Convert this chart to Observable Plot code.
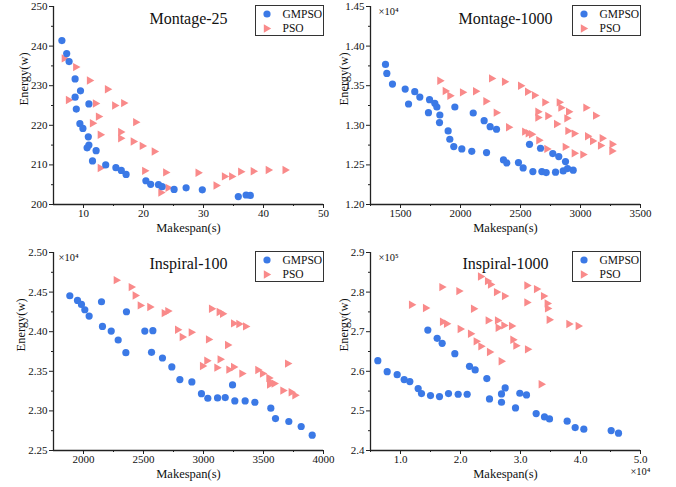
<!DOCTYPE html>
<html>
<head>
<meta charset="utf-8">
<script src="https://cdn.jsdelivr.net/npm/d3@7"></script>
<script src="https://cdn.jsdelivr.net/npm/@observablehq/plot@0.6"></script>
<style>
  html, body { margin: 0; padding: 0; background: #fff; }
  #wrap { position: relative; width: 676px; height: 487px; overflow: hidden; font-family: "Liberation Serif", serif; }
  .panel { position: absolute; }
  .panel svg, .panel svg text { font-family: "Liberation Serif", serif !important; }
  .legend { position: absolute; background: #fff; border: 1px solid #333; box-sizing: border-box; }
</style>
</head>
<body>
<div id="wrap"></div>
<script>
// ---------------- DATA ----------------
const seriesNames = ["GMPSO", "PSO"];
const panelTitles = ["Montage-25", "Montage-1000", "Inspiral-100", "Inspiral-1000"];
const xLabel = "Makespan(s)";
const yLabel = "Energy(w)";

// Montage-25  [makespan, energy]
const m25GMPSO = [[6.4,241.4],[7.2,238.1],[7.6,236.1],[8.6,231.7],[9.5,228.7],[8.6,227.1],[8.8,224.1],[10.9,225.4],
  [9.4,220.4],[9.9,219.2],[10.8,217.1],[10.9,215.0],[10.6,214.3],[12.1,213.6],[11.5,211.0],[13.7,210.0],[15.4,209.3],
  [16.3,208.6],[17.1,207.6],[20.4,206.0],[21.2,205.1],[22.5,205.0],[23.1,204.5],[25.1,203.8],[27.1,204.2],[29.8,203.7],
  [35.8,202.0],[37.1,202.4],[37.8,202.3]];
const m25PSO = [[6.9,236.9],[8.8,234.7],[7.6,226.4],[11.1,231.3],[14.1,229.1],[12.1,225.5],[15.3,225.0],[16.8,225.6],
  [12.6,222.2],[11.6,220.5],[18.8,220.8],[16.3,218.3],[16.3,216.7],[12.9,217.6],[18.4,215.9],[19.9,214.8],[21.9,213.4],
  [12.9,209.2],[20.3,208.5],[23.8,208.1],[23.0,203.0],[24.2,204.2],[29.2,208.0],[32.2,204.8],[33.6,207.1],[34.8,207.1],
  [36.3,208.3],[38.4,208.4],[40.9,208.7],[43.7,208.7]];

// Montage-1000
const m1000GMPSO = [[1375,13769],[1386,13655],[1433,13521],[1539,13458],[1567,13269],[1619,13424],[1661,13357],[1742,13324],
  [1733,13160],[1786,13277],[1803,13231],[1828,13130],[1825,13034],[1953,13231],[1897,12929],[1911,12824],[1944,12731],
  [2011,12702],[2094,12672],[2106,13155],[2197,13059],[2217,12655],[2247,12983],[2300,12950],[2358,12563],[2386,12525],
  [2483,12529],[2522,12462],[2575,12760],[2603,12416],[2667,12710],[2678,12416],[2714,12403],[2769,12643],[2819,12605],
  [2792,12408],[2875,12542],[2856,12424],[2892,12454],[2939,12433]];
const m1000PSO = [[1833,13563],[1878,13433],[1917,13374],[2022,13416],[2131,13429],[2217,13303],[2264,13592],[2303,13160],
  [2372,13550],[2406,12975],[2506,13500],[2564,13424],[2622,13378],[2540,12920],[2570,12899],[2597,12887],[2650,13172],
  [2650,13097],[2708,13290],[2733,13118],[2658,12811],[2725,12702],[2806,13017],[2828,13290],[2842,13223],[2906,13172],
  [2892,13088],[2900,12929],[2878,12727],[2953,12895],[2953,12647],[3025,12630],[3050,13223],[3064,12861],[3131,13122],
  [3106,12802],[3186,12836],[3172,12744],[3269,12760],[3267,12676]];

// Inspiral-100
const i100GMPSO = [[1886,24454],[1950,24395],[1983,24345],[2011,24277],[2047,24197],[2150,24378],[2158,24067],[2231,24008],
  [2289,23895],[2353,23735],[2358,24252],[2511,24008],[2578,24013],[2567,23739],[2658,23668],[2736,23555],[2803,23395],
  [2903,23366],[2983,23218],[3036,23160],[3117,23164],[3181,23168],[3242,23328],[3261,23126],[3347,23126],[3428,23109],
  [3561,23034],[3600,22903],[3711,22866],[3814,22803],[3906,22693]];
const i100PSO = [[2278,24651],[2403,24563],[2436,24458],[2478,24332],[2558,24311],[2678,24235],[2708,24260],[2789,24025],
  [2828,23933],[2903,23992],[3072,24290],[3136,24248],[3164,24227],[3256,24105],[3300,24097],[3356,24067],[3047,23903],
  [3206,23832],[2997,23567],[3033,23634],[3117,23546],[3144,23651],[3217,23521],[3256,23555],[3325,23471],[3458,23517],
  [3497,23471],[3550,23416],[3556,23332],[3594,23345],[3667,23256],[3706,23597],[3736,23235],[3767,23197],[3558,23366]];

// Inspiral-1000
const i1000GMPSO = [[6222,262690],[7778,259917],[9444,259160],[10611,257900],[11556,257396],[12944,255631],[13500,254370],
  [15000,253866],[16500,253614],[18000,254370],[19611,254202],[21111,254202],[14556,270421],[16111,268320],[16944,267060],
  [19056,264455],[21500,261262],[22444,260336],[24389,258152],[24833,253026],[26833,254286],[26833,252185],[27444,255799],
  [29889,254455],[31000,254034],[29167,250757],[32611,249328],[34000,248488],[34833,247983],[37778,247395],[39111,245798],
  [40556,245378],[45111,245042],[46333,244370]];
const i1000PSO = [[11944,276807],[14278,275967],[17000,281261],[19833,280252],[17111,272521],[17778,272017],[20056,270672],
  [21778,269496],[22278,275799],[22722,267563],[23500,266303],[23444,283950],[24611,282773],[25111,281933],[24722,272857],
  [24944,264875],[26111,279999],[26278,272857],[26389,271008],[27333,271597],[27444,278992],[26889,262521],[28611,271429],
  [28833,267984],[29333,266471],[31167,281681],[31167,277395],[31278,265546],[32778,280756],[33944,278992],[34556,277143],
  [34611,275883],[34889,273025],[33556,256723],[38167,271933],[39722,271429]];

// Axis ticks
const m25XTicks = [10, 20, 30, 40, 50];
const m25XMinor = [15, 25, 35, 45];
const m25YTicks = [200, 210, 220, 230, 240, 250];
const m25YMinor = [205, 215, 225, 235, 245];
const m1000XTicks = [1500, 2000, 2500, 3000, 3500];
const m1000XMinor = [1250, 1750, 2250, 2750, 3250];
const m1000YTicks = [12000, 12500, 13000, 13500, 14000, 14500];
const m1000YMinor = [12250, 12750, 13250, 13750, 14250];
const i100XTicks = [2000, 2500, 3000, 3500, 4000];
const i100XMinor = [2250, 2750, 3250, 3750];
const i100YTicks = [22500, 23000, 23500, 24000, 24500, 25000];
const i100YMinor = [22750, 23250, 23750, 24250, 24750];
const i1000XTicks = [10000, 20000, 30000, 40000, 50000];
const i1000XMinor = [5000, 15000, 25000, 35000, 45000];
const i1000YTicks = [240000, 250000, 260000, 270000, 280000, 290000];
const i1000YMinor = [245000, 255000, 265000, 275000, 285000];

// ---------------- STYLE ----------------
const BLUE = "#3b79e6";
const PINK = "#f98a8a";
const FONT = "Liberation Serif";

const triRight = {
  draw(ctx, size) {
    const r = Math.sqrt(size / Math.PI);
    ctx.moveTo(r * 1.05, 0);
    ctx.lineTo(-r * 0.8, -r * 1.05);
    ctx.lineTo(-r * 0.8, r * 1.05);
    ctx.closePath();
  }
};

const wrap = document.getElementById("wrap");

function panel(o) {
  const chart = Plot.plot({
    width: o.width, height: o.height,
    marginLeft: o.ml, marginRight: o.mr, marginTop: o.mt, marginBottom: o.mb,
    x: {domain: o.xDomain},
    y: {domain: o.yDomain},
    style: {background: "transparent", fontFamily: FONT, fontSize: "11px", color: "#111", overflow: "visible"},
    marks: [
      Plot.axisX({ticks: o.xTicks, tickSize: 4, tickPadding: 1, tickFormat: o.xFmt, label: null, stroke: "#222", fill: "#111", fontFamily: FONT, fontSize: 11}),
      Plot.axisX({ticks: o.xMinor, tickSize: 2, tickFormat: () => "", label: null, stroke: "#222"}),
      Plot.axisY({ticks: o.yTicks, tickSize: 4, tickPadding: 2, tickFormat: o.yFmt, label: null, stroke: "#222", fill: "#111", fontFamily: FONT, fontSize: 11}),
      Plot.axisY({ticks: o.yMinor, tickSize: 2, tickFormat: () => "", label: null, stroke: "#222"}),
      Plot.ruleY([o.yDomain[0]], {stroke: "#222", strokeWidth: 1.3}),
      Plot.ruleX([o.xDomain[0]], {stroke: "#222", strokeWidth: 1.3}),
      Plot.dot(o.pso, {x: d => d[0], y: d => d[1], symbol: triRight, r: 4, fill: PINK, stroke: "none"}),
      Plot.dot(o.gm, {x: d => d[0], y: d => d[1], r: 3.6, fill: BLUE, stroke: "none"}),
      Plot.text([o.title], {frameAnchor: "top", dy: o.titleDy, fontSize: 16, fill: "#111", fontFamily: FONT}),
      Plot.text([xLabel], {frameAnchor: "bottom", dy: 27, fontSize: 12.5, fill: "#111", fontFamily: FONT}),
      Plot.text([yLabel], {frameAnchor: "left", dx: o.yLabelDx, rotate: -90, fontSize: 12.5, fill: "#111", fontFamily: FONT}),
      ...(o.yExp ? [Plot.text([o.yExp], {frameAnchor: "top-left", dx: o.yExpDx, dy: 1, textAnchor: "start", fontSize: 10.5, fill: "#111", fontFamily: FONT})] : []),
      ...(o.xExp ? [Plot.text([o.xExp], {frameAnchor: "bottom-right", dx: 0, dy: 24, textAnchor: "middle", fontSize: 10.5, fill: "#111", fontFamily: FONT})] : [])
    ]
  });
  const div = document.createElement("div");
  div.className = "panel";
  div.style.left = o.left + "px";
  div.style.top = o.top + "px";
  div.appendChild(chart);
  wrap.appendChild(div);

  // legend (top-right corner of plot area)
  const lg = document.createElement("div");
  lg.className = "legend";
  const lw = 69, lh = 31;
  const plotRight = o.left + o.width - o.mr;
  const plotTop = o.top + o.mt;
  lg.style.left = (plotRight - lw + 1) + "px";
  lg.style.top = (plotTop - 1) + "px";
  lg.style.width = lw + "px";
  lg.style.height = lh + "px";
  lg.innerHTML = `<svg width="${lw - 2}" height="${lh - 2}" style="display:block;font-family:'Liberation Serif',serif;font-size:11.5px">
    <circle cx="11" cy="8" r="3.6" fill="${BLUE}"/>
    <text x="26.5" y="11.5" fill="#111">${seriesNames[0]}</text>
    <path d="M15.2,22.5 L7.8,18.3 L7.8,26.7 Z" fill="${PINK}"/>
    <text x="26.5" y="26" fill="#111">${seriesNames[1]}</text>
  </svg>`;
  wrap.appendChild(lg);
}

const f0 = d => d3.format("d")(d);

panel({
  left: 0, top: 0, width: 338, height: 243, ml: 53, mr: 15, mt: 6, mb: 39,
  xDomain: [5, 50], yDomain: [200, 250],
  xTicks: m25XTicks, xMinor: m25XMinor, yTicks: m25YTicks, yMinor: m25YMinor,
  xFmt: f0, yFmt: f0,
  gm: m25GMPSO, pso: m25PSO, title: panelTitles[0], titleDy: 6, yLabelDx: -30
});

panel({
  left: 320, top: 0, width: 356, height: 243, ml: 50, mr: 36, mt: 6, mb: 39,
  xDomain: [1250, 3500], yDomain: [12000, 14500],
  xTicks: m1000XTicks, xMinor: m1000XMinor, yTicks: m1000YTicks, yMinor: m1000YMinor,
  xFmt: f0, yFmt: d => (d / 1e4).toFixed(2),
  gm: m1000GMPSO, pso: m1000PSO, title: panelTitles[1], titleDy: 6, yLabelDx: -27,
  yExp: "×10⁴", yExpDx: 8
});

panel({
  left: 0, top: 243, width: 338, height: 244, ml: 53, mr: 15, mt: 9, mb: 37,
  xDomain: [1750, 4000], yDomain: [22500, 25000],
  xTicks: i100XTicks, xMinor: i100XMinor, yTicks: i100YTicks, yMinor: i100YMinor,
  xFmt: f0, yFmt: d => (d / 1e4).toFixed(2),
  gm: i100GMPSO, pso: i100PSO, title: panelTitles[2], titleDy: 5, yLabelDx: -33,
  yExp: "×10⁴", yExpDx: 5
});

panel({
  left: 320, top: 243, width: 356, height: 244, ml: 50, mr: 36, mt: 9, mb: 37,
  xDomain: [5000, 50000], yDomain: [240000, 290000],
  xTicks: i1000XTicks, xMinor: i1000XMinor, yTicks: i1000YTicks, yMinor: i1000YMinor,
  xFmt: d => (d / 1e4).toFixed(1), yFmt: d => (d / 1e5).toFixed(1),
  gm: i1000GMPSO, pso: i1000PSO, title: panelTitles[3], titleDy: 5, yLabelDx: -27,
  yExp: "×10⁵", yExpDx: 8, xExp: "×10⁴"
});
</script>
</body>
</html>
